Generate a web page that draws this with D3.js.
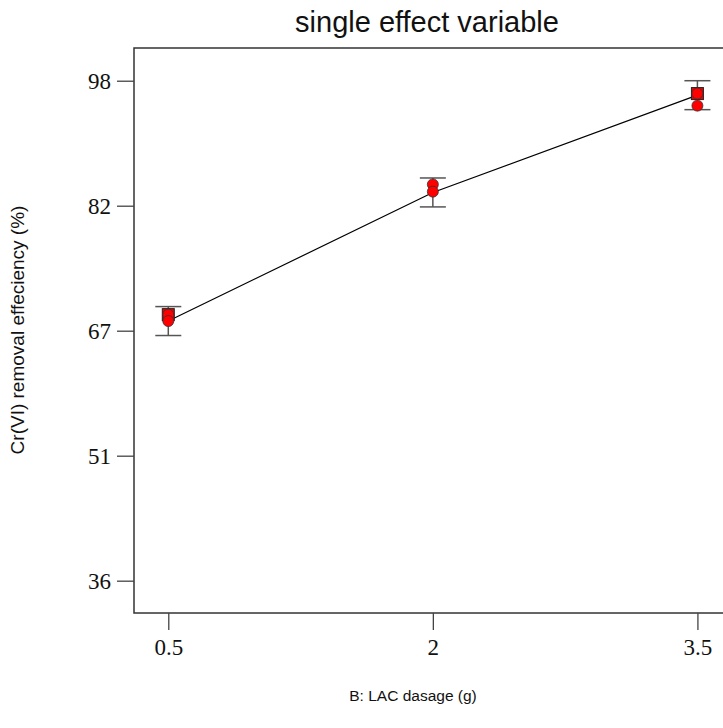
<!DOCTYPE html>
<html lang="en">
<head>
    <meta charset="UTF-8">
    <title>single effect variable</title>
    <script type="text/javascript" src="https://d3js.org/d3.v7.min.js"></script>
    <style>
        body { margin: 0; background: #fff; }
    </style>
</head>
<body>
<div id="Area"></div>
<script>
    // factor levels (B: LAC dosage)
    const xLevels = [0.5, 2, 3.5];
    // predicted mean and confidence band at each level
    const meanValues = [68.1, 84.1, 96.2];
    const lowValues = [66.3, 82.3, 94.4];
    const highValues = [69.9, 85.9, 98.0];
    // observed design points
    const obsX = [0.5, 0.5, 2, 2, 3.5, 3.5];
    const obsY = [68.9, 68.1, 85.1, 84.2, 96.4, 94.9];
    // replicated points (drawn as squares)
    const repX = [0.5, 3.5];
    const repY = [68.9, 96.4];
    // y axis ticks and their printed labels
    const yTickValues = [35.8, 51.35, 66.9, 82.45, 98];
    const yTickLabels = ["36", "51", "67", "82", "98"];

    const W = 723, H = 728;
    const margin = {top: 48, left: 134, bottom: 613};

    const svg = d3.select("#Area")
      .append("svg")
        .attr("width", W)
        .attr("height", H);

    const x = d3.scaleLinear()
        .domain([0.3056, 3.6944])
        .range([margin.left, 731.7]);

    const y = d3.scaleLinear()
        .domain([31.78, 102.07])
        .range([margin.bottom, margin.top]);

    // frame (right side falls outside the picture)
    svg.append("rect")
        .attr("x", x.range()[0])
        .attr("y", y.range()[1])
        .attr("width", x.range()[1] - x.range()[0])
        .attr("height", y.range()[0] - y.range()[1])
        .attr("fill", "none")
        .attr("stroke", "#333")
        .attr("stroke-width", 1.5);

    // X axis
    const gx = svg.append("g")
        .attr("transform", "translate(0," + margin.bottom + ")")
        .call(d3.axisBottom(x).tickValues(xLevels).tickFormat(d3.format("")).tickSize(17).tickPadding(9));
    gx.select(".domain").remove();
    gx.selectAll(".tick line").attr("stroke", "#444").attr("stroke-width", 1.3);
    gx.selectAll(".tick text")
        .attr("font-family", "Liberation Serif, serif")
        .attr("font-size", 23)
        .attr("fill", "#111");

    // Y axis
    const gy = svg.append("g")
        .attr("transform", "translate(" + margin.left + ",0)")
        .call(d3.axisLeft(y).tickValues(yTickValues)
            .tickFormat((d, i) => yTickLabels[i]).tickSize(17).tickPadding(6));
    gy.select(".domain").remove();
    gy.selectAll(".tick line").attr("stroke", "#444").attr("stroke-width", 1.3);
    gy.selectAll(".tick text")
        .attr("font-family", "Liberation Serif, serif")
        .attr("font-size", 23)
        .attr("fill", "#111");

    // error bars
    const capW = 13;
    const bars = svg.append("g").attr("stroke", "#555").attr("stroke-width", 1.5);
    xLevels.forEach((lv, i) => {
        bars.append("line")
            .attr("x1", x(lv)).attr("x2", x(lv))
            .attr("y1", y(lowValues[i])).attr("y2", y(highValues[i]));
        bars.append("line")
            .attr("x1", x(lv) - capW).attr("x2", x(lv) + capW)
            .attr("y1", y(lowValues[i])).attr("y2", y(lowValues[i]));
        bars.append("line")
            .attr("x1", x(lv) - capW).attr("x2", x(lv) + capW)
            .attr("y1", y(highValues[i])).attr("y2", y(highValues[i]));
    });

    // mean line
    svg.append("path")
        .datum(xLevels.map((lv, i) => [lv, meanValues[i]]))
        .attr("fill", "none")
        .attr("stroke", "#000")
        .attr("stroke-width", 1.2)
        .attr("d", d3.line().x(d => x(d[0])).y(d => y(d[1])));

    // squares
    svg.selectAll("rect.rep")
        .data(repX.map((v, i) => [v, repY[i]]))
        .enter()
        .append("rect")
            .attr("class", "rep")
            .attr("x", d => x(d[0]) - 6)
            .attr("y", d => y(d[1]) - 6)
            .attr("width", 12)
            .attr("height", 12)
            .attr("fill", "#e00")
            .attr("stroke", "#222");

    // observed points
    svg.selectAll("circle.obs")
        .data(obsX.map((v, i) => [v, obsY[i]]))
        .enter()
        .append("circle")
            .attr("class", "obs")
            .attr("cx", d => x(d[0]))
            .attr("cy", d => y(d[1]))
            .attr("r", 5.5)
            .attr("fill", "#ff0000")
            .attr("stroke", "#333")
            .attr("stroke-width", 0.8);

    // title and axis labels
    svg.append("text")
        .attr("x", 427)
        .attr("y", 32)
        .attr("text-anchor", "middle")
        .attr("font-family", "Liberation Sans, Arial, sans-serif")
        .attr("font-size", 29)
        .attr("fill", "#111")
        .text("single effect variable");

    svg.append("text")
        .attr("x", 413)
        .attr("y", 701)
        .attr("text-anchor", "middle")
        .attr("font-family", "Liberation Sans, Arial, sans-serif")
        .attr("font-size", 15.5)
        .attr("fill", "#111")
        .text("B: LAC dasage (g)");

    svg.append("text")
        .attr("transform", "translate(24,330) rotate(-90)")
        .attr("text-anchor", "middle")
        .attr("font-family", "Liberation Sans, Arial, sans-serif")
        .attr("font-size", 19)
        .attr("fill", "#111")
        .text("Cr(VI) removal effeciency (%)");
</script>
</body>
</html>
